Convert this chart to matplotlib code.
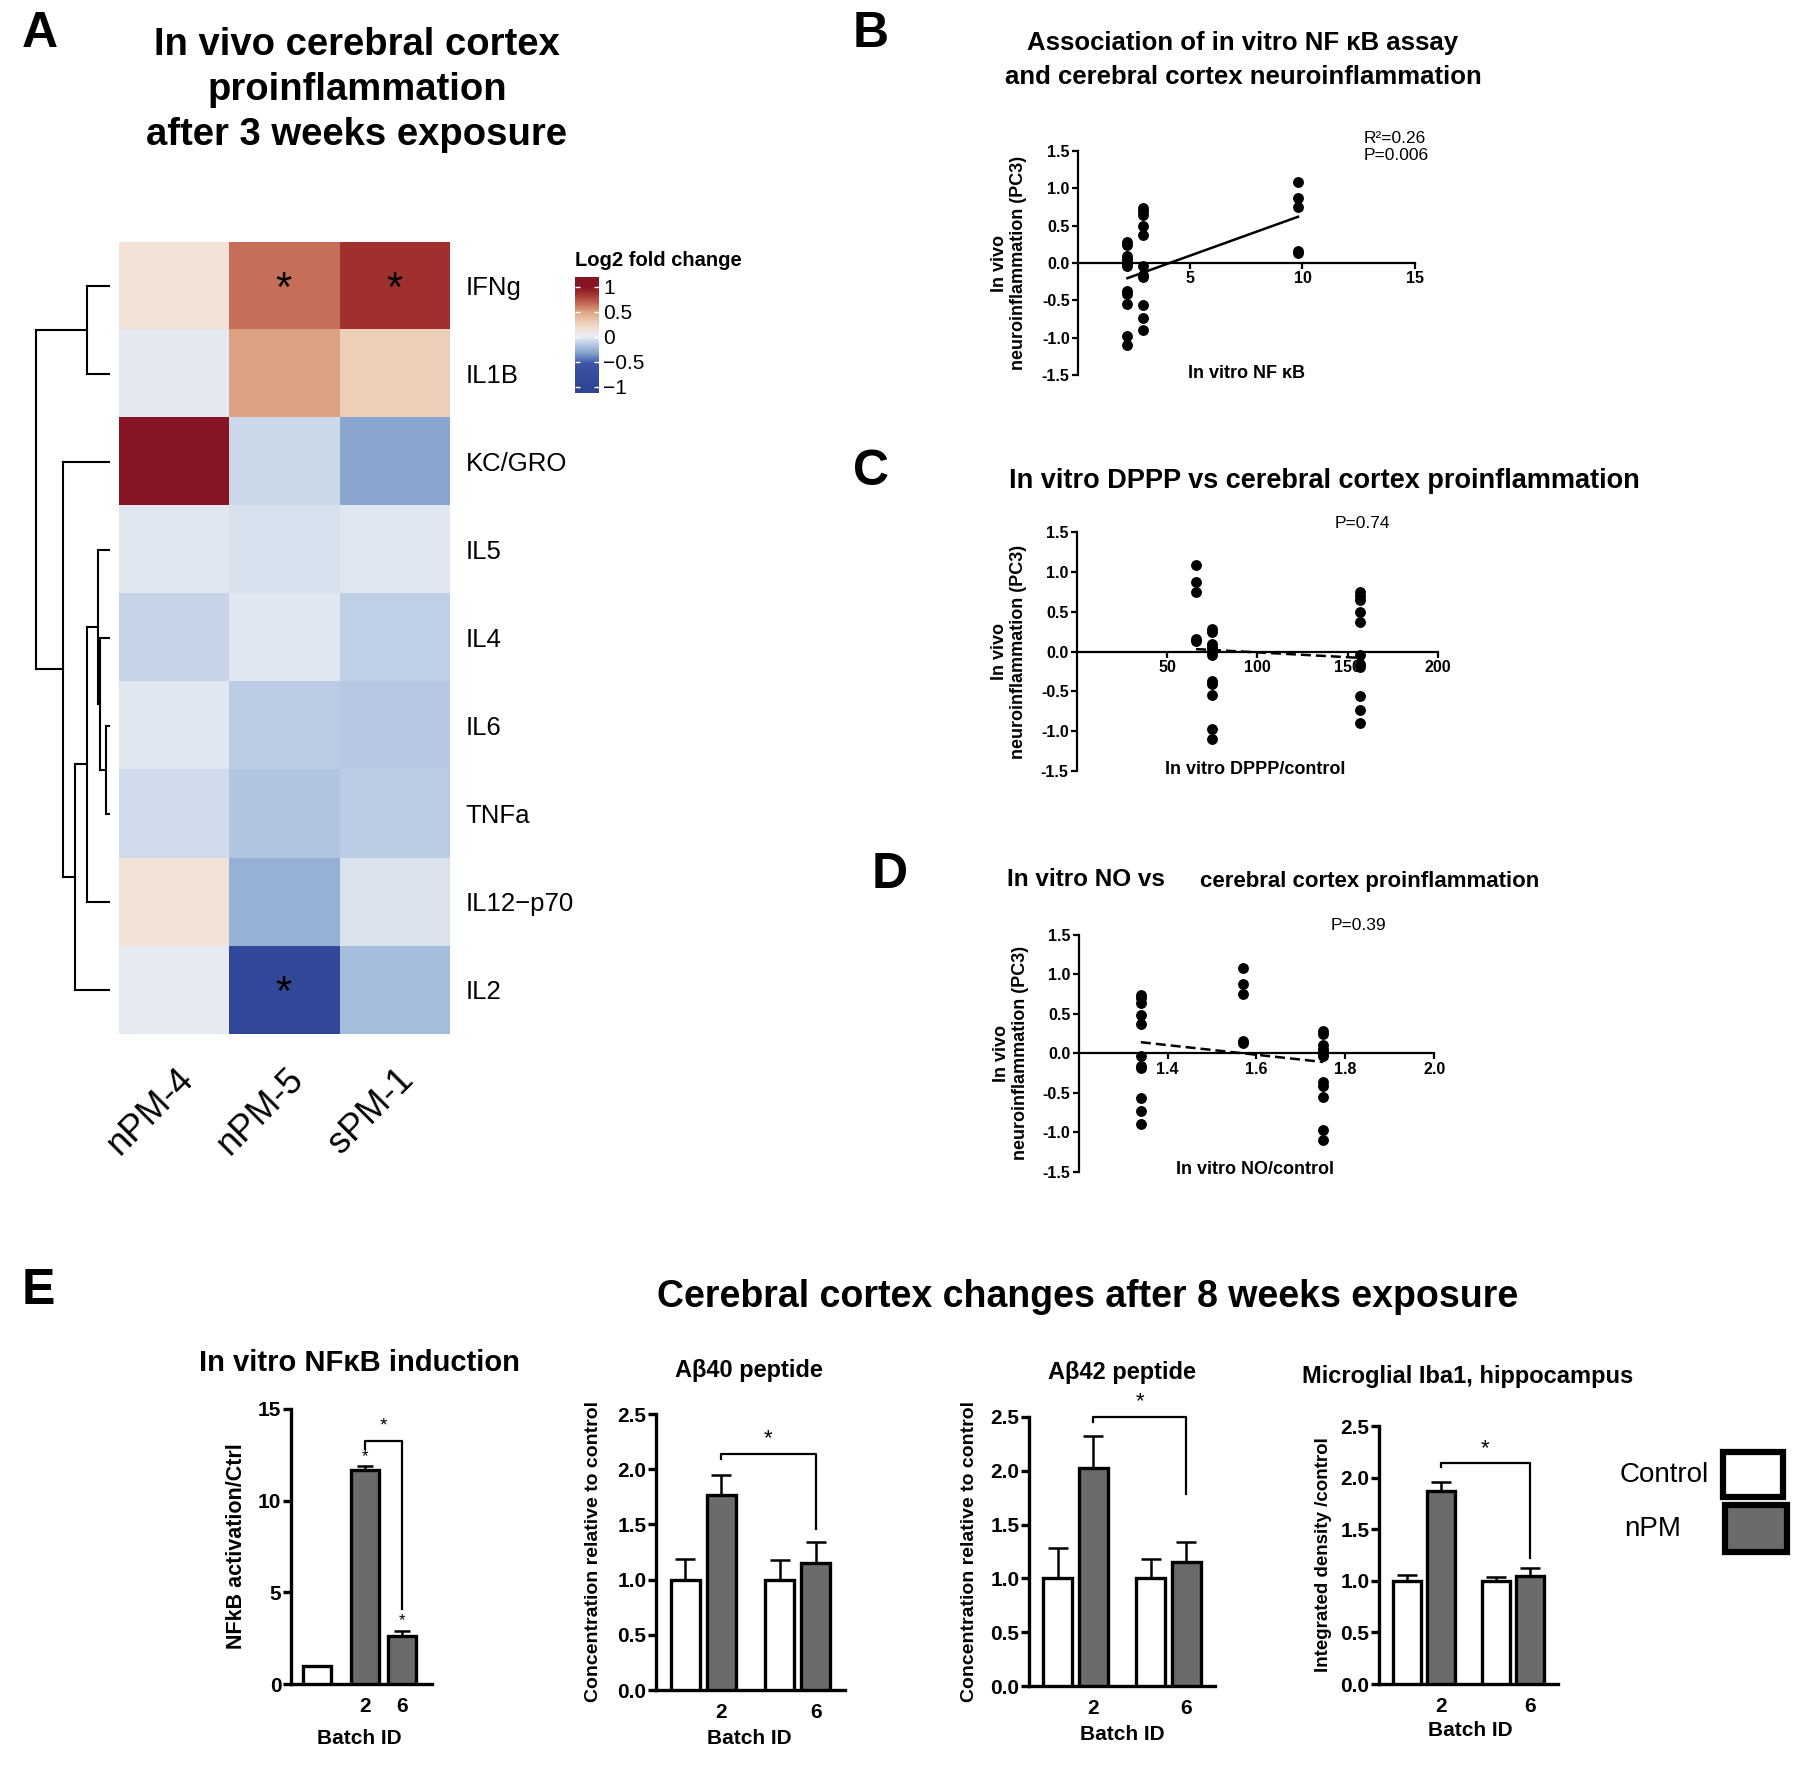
import numpy as np
import matplotlib
matplotlib.use('Agg')
import matplotlib.pyplot as plt
from matplotlib.colors import LinearSegmentedColormap
from matplotlib.patches import Rectangle

plt.rcParams['font.family'] = ['Liberation Sans', 'DejaVu Sans']
plt.rcParams['font.weight'] = 'bold'
plt.rcParams['axes.unicode_minus'] = False

W, H = 1805, 1768  # output px at dpi 100

# ---------------- panel A: log2 fold change heatmap ----------------
cytokines = ['IFNg', 'IL1B', 'KC/GRO', 'IL5', 'IL4', 'IL6', 'TNFa', 'IL12\u2212p70', 'IL2']
particles = ['nPM-4', 'nPM-5', 'sPM-1']
log2fc = np.array([
    [0.15, 0.64, 0.85],
    [-0.02, 0.49, 0.27],
    [1.00, -0.10, -0.32],
    [-0.03, -0.06, -0.03],
    [-0.11, -0.03, -0.14],
    [-0.03, -0.15, -0.17],
    [-0.08, -0.18, -0.15],
    [0.14, -0.27, -0.05],
    [-0.01, -0.90, -0.22],
])
hm_signif = [(0, 1), (0, 2), (8, 1)]
# row dendrogram: (child a, child b, height); leaves = rows 0..8, new nodes from 9
row_merges = [(5, 6, 4.0), (4, 9, 10.0), (3, 10, 12.3), (11, 7, 22.7), (12, 8, 35.0),
              (0, 1, 23.3), (2, 13, 47.3), (14, 15, 74.3)]
cbar_ticks = [1, 0.5, 0, -0.5, -1]
cbar_labels = ['1', '0.5', '0', '\u22120.5', '\u22121']

# ---------------- panels B-D: PC3 per animal, grouped by exposure batch ----------------
pc3_a = [0.28, 0.24, 0.10, 0.06, 0.02, 0.0, -0.04, -0.37, -0.41, -0.55, -0.97, -1.10]
pc3_b = [0.74, 0.70, 0.64, 0.49, 0.37, -0.04, -0.16, -0.19, -0.56, -0.73, -0.90]
pc3_c = [1.08, 0.87, 0.75, 0.16, 0.13]
nfkb_x = [2.2, 2.9, 9.8]
dppp_x = [75, 157, 66]
no_x = [1.75, 1.34, 1.57]
nfkb_fit = (0.108, -0.44)     # slope, intercept
dppp_fit = (-0.00121, 0.11)
no_fit = (-0.61, 0.957)
pc3_ticks = [-1.5, -1.0, -0.5, 0.0, 0.5, 1.0, 1.5]

# ---------------- panel E: bar charts ----------------
batch_ids = ['2', '6']
nfkb_ind_x = [0.7, 2.0, 3.0]
nfkb_ind = [1.0, 11.7, 2.6]
nfkb_ind_err = [0.0, 0.2, 0.3]
ab40_ctrl, ab40_ctrl_err = [1.0, 1.0], [0.19, 0.18]
ab40_npm, ab40_npm_err = [1.77, 1.15], [0.18, 0.19]
ab42_ctrl, ab42_ctrl_err = [1.0, 1.0], [0.28, 0.18]
ab42_npm, ab42_npm_err = [2.03, 1.15], [0.29, 0.19]
iba1_ctrl, iba1_ctrl_err = [1.0, 1.0], [0.06, 0.035]
iba1_npm, iba1_npm_err = [1.87, 1.05], [0.09, 0.07]

GREY = '#6b6b6b'
cmap_fc = LinearSegmentedColormap.from_list('fc', [
    (0.000, '#2f4595'), (0.225, '#3d55a5'), (0.325, '#7f9fcd'), (0.425, '#bccde5'),
    (0.500, '#eaedf3'), (0.575, '#f3e2d6'), (0.675, '#e9c2a6'), (0.750, '#dca080'),
    (0.825, '#c46c58'), (0.925, '#a2302e'), (1.000, '#861424')])

fig = plt.figure(figsize=(W / 100, H / 100), dpi=100)


def px_rect(l, t, r, b):
    return [l / W, 1 - b / H, (r - l) / W, (b - t) / H]


def ftext(x, y, s, **kw):
    kw.setdefault('ha', 'center')
    kw.setdefault('va', 'center')
    return fig.text(x / W, 1 - y / H, s, **kw)


# ---- A: heatmap + dendrogram + colour key
ftext(40, 34, 'A', fontsize=36)
ftext(357, 90, 'In vivo cerebral cortex\nproinflammation\nafter 3 weeks exposure',
      fontsize=27.5, linespacing=1.33)

ax_hm = fig.add_axes(px_rect(118.6, 241.7, 449, 1033.7))
ax_hm.imshow(log2fc, cmap=cmap_fc, vmin=-1, vmax=1, aspect='auto', interpolation='nearest')
ax_hm.set_yticks(range(len(cytokines)))
ax_hm.set_yticklabels(cytokines, fontsize=18.5, fontweight='normal')
ax_hm.yaxis.tick_right()
ax_hm.set_xticks([])
ax_hm.tick_params(length=0, pad=12)
for s in ax_hm.spines.values():
    s.set_visible(False)
for c, name in enumerate(particles):
    ax_hm.text(c + 0.02, len(cytokines) - 0.5 + 0.32, name, rotation=45, ha='right', va='top',
               rotation_mode='anchor', fontsize=26, fontweight='normal')
for r, c in hm_signif:
    ax_hm.text(c, r + 0.05, '*', ha='center', va='center', fontsize=30, fontweight='normal')

ax_dg = fig.add_axes(px_rect(10, 241.7, 110, 1033.7))
ypos = {i: float(i) for i in range(len(cytokines))}
hgt = {i: 0.0 for i in range(len(cytokines))}
for k, (a, b, h) in enumerate(row_merges):
    node = len(cytokines) + k
    for ch in (a, b):
        ax_dg.plot([hgt[ch], h], [ypos[ch], ypos[ch]], color='k', lw=1.5)
    ax_dg.plot([h, h], [ypos[a], ypos[b]], color='k', lw=1.5)
    ypos[node] = (ypos[a] + ypos[b]) / 2
    hgt[node] = h
ax_dg.set_xlim(100, 0)
ax_dg.set_ylim(len(cytokines) - 0.5, -0.5)
ax_dg.axis('off')

ax_cb = fig.add_axes(px_rect(575, 276.7, 599, 393))
grad = np.linspace(-1.13, 1.2, 256)[:, None]
ax_cb.imshow(grad, cmap=cmap_fc, vmin=-1, vmax=1, aspect='auto', origin='lower',
             extent=[0, 1, -1.13, 1.2])
ax_cb.hlines(cbar_ticks, 0, 0.2, color='white', lw=1)
ax_cb.hlines(cbar_ticks, 0.8, 1, color='white', lw=1)
ax_cb.set_xlim(0, 1)
ax_cb.set_ylim(-1.13, 1.2)
ax_cb.set_xticks([])
ax_cb.yaxis.tick_right()
ax_cb.set_yticks(cbar_ticks)
ax_cb.set_yticklabels(cbar_labels, fontsize=15, fontweight='normal')
ax_cb.tick_params(length=0, pad=3)
for s in ax_cb.spines.values():
    s.set_visible(False)
ftext(575, 261, 'Log2 fold change', ha='left', fontsize=14.5)


# ---- B-D: scatter vs in vitro assays
def scatter_panel(rect, xs, xlim, xticks, xticklabels, fit, ls):
    ax = fig.add_axes(px_rect(*rect))
    for x, ys in zip(xs, (pc3_a, pc3_b, pc3_c)):
        ax.plot([x] * len(ys), ys, 'o', ms=6.8, color='k', clip_on=False, zorder=3)
    fx = np.array([min(xs), max(xs)])
    ax.plot(fx, fit[0] * fx + fit[1], color='k', lw=1.8, ls=ls, zorder=2)
    ax.set_xlim(*xlim)
    ax.set_ylim(-1.5, 1.5)
    ax.spines[['top', 'right']].set_visible(False)
    ax.spines['bottom'].set_position(('data', 0))
    for s in ('left', 'bottom'):
        ax.spines[s].set_linewidth(1.6)
    ax.set_xticks(xticks)
    ax.set_xticklabels(xticklabels)
    ax.set_yticks(pc3_ticks)
    ax.set_yticklabels([f'{v:.1f}' for v in pc3_ticks])
    ax.tick_params(length=4, width=1.6, labelsize=11.5, pad=2)
    ax.patch.set_visible(False)
    return ax


ylab = 'In vivo\nneuroinflammation (PC3)'

ftext(871, 34, 'B', fontsize=36)
ftext(1243, 60, 'Association of in vitro NF \u03baB assay\nand cerebral cortex neuroinflammation',
      fontsize=18.5, linespacing=1.55)
scatter_panel((1078, 150.8, 1414.7, 375.3), nfkb_x, (0, 15), [5, 10, 15],
              ['5', '10', '15'], nfkb_fit, '-')
ftext(1009, 263, ylab, rotation=90, fontsize=13, linespacing=1.1)
ftext(1247, 374, 'In vitro NF \u03baB', fontsize=13)
ftext(1364, 147, 'R\u00b2=0.26\nP=0.006', ha='left', fontsize=12.5, fontweight='normal',
      linespacing=1.2)

ftext(871, 472, 'C', fontsize=36)
ftext(1324, 481, 'In vitro DPPP vs cerebral cortex proinflammation', fontsize=19.5)
scatter_panel((1077, 531.8, 1437.7, 771.2), dppp_x, (0, 200), [50, 100, 150, 200],
              ['50', '100', '150', '200'], dppp_fit, (0, (4, 2)))
ftext(1009, 652, ylab, rotation=90, fontsize=13, linespacing=1.1)
ftext(1255, 769, 'In vitro DPPP/control', fontsize=13)
ftext(1362, 524, 'P=0.74', fontsize=12.5, fontweight='normal')

ftext(890, 875, 'D', fontsize=36)
ftext(1007, 880, 'In vitro NO vs', ha='left', fontsize=17.5)
ftext(1200, 881, 'cerebral cortex proinflammation', ha='left', fontsize=16)
scatter_panel((1078.6, 934.7, 1434.3, 1171.8), no_x, (1.2, 2.0), [1.4, 1.6, 1.8, 2.0],
              ['1.4', '1.6', '1.8', '2.0'], no_fit, (0, (4, 2)))
ftext(1011, 1053, ylab, rotation=90, fontsize=13, linespacing=1.1)
ftext(1255, 1169, 'In vitro NO/control', fontsize=13)
ftext(1358, 925, 'P=0.39', fontsize=12.5, fontweight='normal')


# ---- E: bar charts
def style_bars(ax, ymax, yticks, fmt):
    ax.set_ylim(0, ymax)
    ax.spines[['top', 'right']].set_visible(False)
    for s in ('left', 'bottom'):
        ax.spines[s].set_linewidth(2.4)
    ax.set_yticks(yticks)
    ax.set_yticklabels([fmt.format(v) for v in yticks])
    ax.tick_params(axis='y', length=6, width=2.4, labelsize=15, pad=1)
    ax.tick_params(axis='x', length=0, labelsize=15, pad=9)
    ax.patch.set_visible(False)


def bracket(ax, x1, x2, y_left, y_top, y_right, star_y, star_size=16):
    ax.plot([x1, x1, x2, x2], [y_left, y_top, y_top, y_right], color='k', lw=1.6,
            clip_on=False)
    ax.text((x1 + x2) / 2, star_y, '*', ha='center', va='center', fontsize=star_size,
            fontweight='normal', clip_on=False)


def grouped_panel(rect, ctrl, ctrl_err, npm, npm_err, br):
    ax = fig.add_axes(px_rect(*rect))
    grp = np.array([1.0, 2.0])
    off, w = 0.19, 0.31
    ax.errorbar(grp - off, ctrl, yerr=[np.zeros(2), ctrl_err], fmt='none', ecolor='k',
                elinewidth=1.8, capsize=7, capthick=1.8, zorder=2)
    ax.errorbar(grp + off, npm, yerr=[np.zeros(2), npm_err], fmt='none', ecolor='k',
                elinewidth=1.8, capsize=7, capthick=1.8, zorder=2)
    ax.bar(grp - off, ctrl, w, color='white', edgecolor='k', lw=2.4, zorder=3)
    ax.bar(grp + off, npm, w, color=GREY, edgecolor='k', lw=2.4, zorder=3)
    ax.set_xlim(0.5, 2.5)
    ax.set_xticks(grp + off)
    ax.set_xticklabels(batch_ids)
    style_bars(ax, 2.5, [0, 0.5, 1.0, 1.5, 2.0, 2.5], '{:.1f}')
    bracket(ax, grp[0] + off, grp[1] + off, *br)
    return ax


ftext(38, 1291, 'E', fontsize=36)
ftext(1088, 1297, 'Cerebral cortex changes after 8 weeks exposure', fontsize=27)

# in vitro NFkB induction
ax1 = fig.add_axes(px_rect(291, 1409, 432, 1684))
ax1.errorbar(nfkb_ind_x, nfkb_ind, yerr=[np.zeros(3), nfkb_ind_err], fmt='none', ecolor='k',
             elinewidth=1.8, capsize=6, capthick=1.8, zorder=2)
ax1.bar(nfkb_ind_x, nfkb_ind, 0.76, color=['white', GREY, GREY], edgecolor='k', lw=2.4,
        zorder=3)
ax1.set_xlim(0, 3.8)
ax1.set_xticks(nfkb_ind_x[1:])
ax1.set_xticklabels(batch_ids)
style_bars(ax1, 15, [0, 5, 10, 15], '{:d}')
bracket(ax1, nfkb_ind_x[1], nfkb_ind_x[2], 12.8, 13.25, 4.1, 14.1, 14)
for x, y in ((nfkb_ind_x[1], 12.4), (nfkb_ind_x[2], 3.45)):
    ax1.text(x, y, '*', ha='center', va='center', fontsize=12, fontweight='normal')
ftext(359, 1363, 'In vitro NF\u03baB induction', fontsize=21)
ftext(236, 1546, 'NFkB activation/Ctrl', rotation=90, fontsize=15.5)
ftext(359, 1738, 'Batch ID', fontsize=15)

grouped_panel((656, 1414, 845, 1690), ab40_ctrl, ab40_ctrl_err, ab40_npm, ab40_npm_err,
              (2.09, 2.14, 1.46, 2.28))
ftext(749, 1371, 'A\u03b240 peptide', fontsize=17)
ftext(593, 1552, 'Concentration relative to control', rotation=90, fontsize=14)
ftext(749, 1738, 'Batch ID', fontsize=15)

grouped_panel((1029, 1417, 1215, 1686), ab42_ctrl, ab42_ctrl_err, ab42_npm, ab42_npm_err,
              (2.45, 2.5, 1.78, 2.64))
ftext(1122, 1373, 'A\u03b242 peptide', fontsize=17)
ftext(969, 1552, 'Concentration relative to control', rotation=90, fontsize=14)
ftext(1122, 1735, 'Batch ID', fontsize=15)

grouped_panel((1379, 1426, 1558, 1684), iba1_ctrl, iba1_ctrl_err, iba1_npm, iba1_npm_err,
              (2.1, 2.14, 1.22, 2.28))
ftext(1468, 1377, 'Microglial Iba1, hippocampus', fontsize=17)
ftext(1324, 1555, 'Integrated density /control', rotation=90, fontsize=13.5)
ftext(1470, 1730, 'Batch ID', fontsize=15)

# legend
for (x0, y0, x1, y1), fill, label, tx in (((1723, 1452, 1783, 1497), 'white', 'Control', 1620),
                                           ((1725, 1505, 1787, 1552), GREY, 'nPM', 1624)):
    fig.add_artist(Rectangle((x0 / W, 1 - y1 / H), (x1 - x0) / W, (y1 - y0) / H,
                             transform=fig.transFigure, facecolor=fill, edgecolor='k',
                             lw=4.5))
    ftext(tx, (y0 + y1) / 2, label, ha='left', fontsize=20, fontweight='normal')

fig.savefig('out.png', dpi=100)
